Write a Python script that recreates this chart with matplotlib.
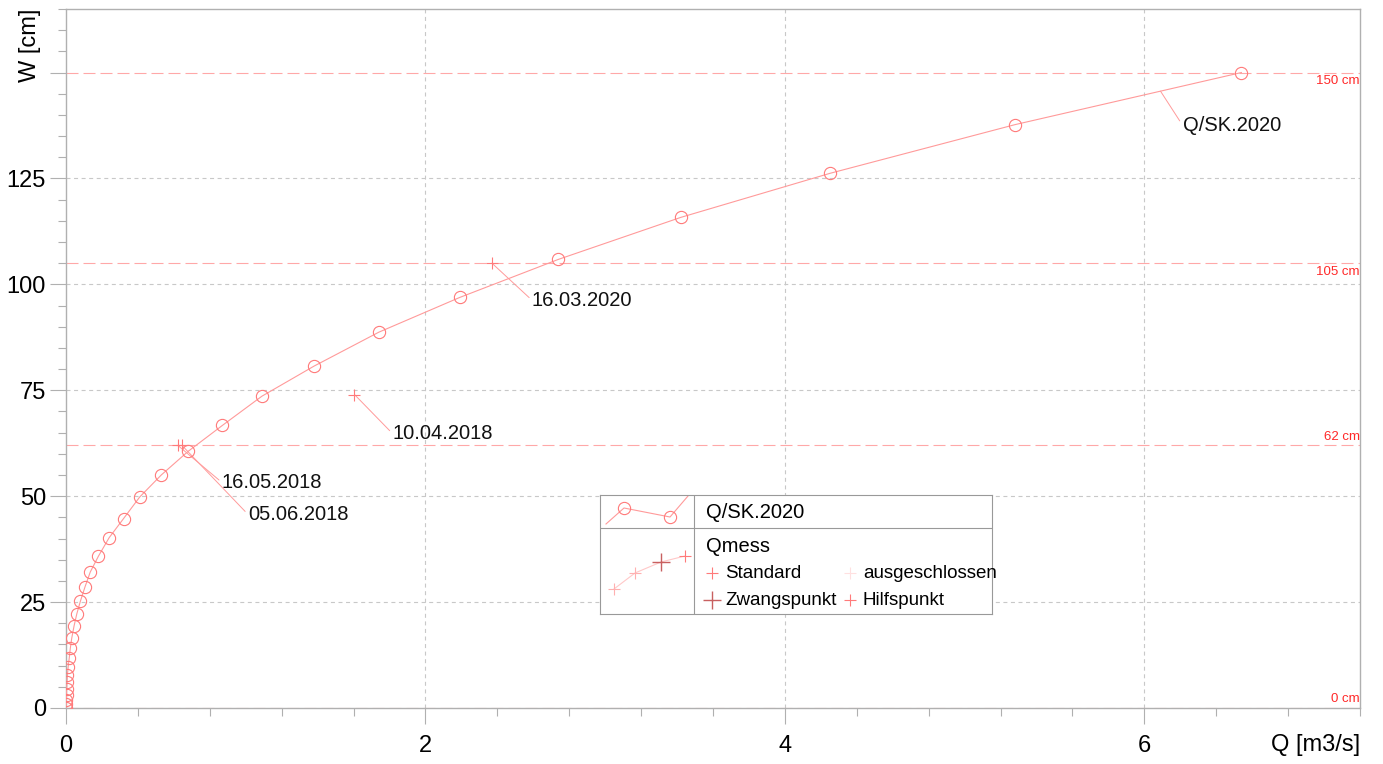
import numpy as np
import matplotlib
matplotlib.use('Agg')
import matplotlib.pyplot as plt

plt.rcParams['font.family'] = ['Liberation Sans', 'DejaVu Sans']

# rating curve Q/SK.2020 (discharge m3/s, water level cm)
q_curve = [0.0, 0.001, 0.002, 0.003, 0.004, 0.006, 0.008, 0.012, 0.018, 0.024,
           0.032, 0.045, 0.06, 0.08, 0.105, 0.135, 0.18, 0.24, 0.32, 0.41,
           0.53, 0.68, 0.87, 1.09, 1.38, 1.74, 2.19, 2.74, 3.42, 4.25,
           5.28, 6.54]
w_curve = [0.0, 0.9, 1.9, 3.1, 4.5, 6.1, 7.8, 9.7, 11.8, 14.1,
           16.5, 19.4, 22.2, 25.2, 28.5, 32.1, 35.8, 40.2, 44.7, 49.8,
           55.0, 60.6, 66.7, 73.6, 80.7, 88.7, 96.9, 105.9, 115.8, 126.2,
           137.7, 150.0]
curve_name = 'Q/SK.2020'

# discharge measurements (Qmess)
meas_q = [2.37, 1.605, 0.622, 0.645]
meas_w = [105.0, 74.0, 62.0, 62.0]
meas_dates = ['16.03.2020', '10.04.2018', '16.05.2018', '05.06.2018']

# level marks
marks_w = [150, 105, 62, 0]
marks_txt = ['150 cm', '105 cm', '62 cm', '0 cm']

x_major = [0, 2, 4, 6]
y_major = [0, 25, 50, 75, 100, 125, 150]
y_labels = ['0', '25', '50', '75', '100', '125', '']

RED_LINE = '#ff9a9a'
RED_MARK = '#ff7a7a'
GRID = '#c8c8c8'
SPINE = '#b0b0b0'

W, H = 1383, 764
fig = plt.figure(figsize=(W / 100, H / 100), dpi=100)
ax = fig.add_axes([66 / W, 1 - 708 / H, (1360 - 66) / W, (708 - 9) / H])
ax.set_xlim(0, 7.2)
ax.set_ylim(0, 165)

# ticks
ax.set_xticks(x_major)
ax.set_xticks(np.arange(0, 7.21, 0.4), minor=True)
ax.set_yticks(y_major)
ax.set_yticklabels(y_labels)
ax.set_yticks(np.arange(0, 166, 5), minor=True)
ax.tick_params(which='major', length=11.5, width=0.8, color=SPINE,
               labelsize=17, pad=3)
ax.tick_params(axis='x', which='major', pad=8)
ax.tick_params(which='minor', length=5.5, width=0.8, color=SPINE)
for s in ax.spines.values():
    s.set_color(SPINE)
    s.set_linewidth(1.0)

# dashed grid (no gray line at 150, the level mark sits there)
grid_style = dict(color=GRID, lw=0.8, linestyle=(0, (3.6, 3.2)), zorder=0)
for xv in x_major[1:]:
    ax.axvline(xv, **grid_style)
for yv in y_major[1:-1]:
    ax.axhline(yv, **grid_style)

# level marks
for wv, txt in zip(marks_w, marks_txt):
    ax.axhline(wv, color='#ffa8a8', lw=0.8, linestyle=(0, (10.8, 4.5)), zorder=1)
    below = wv > 100
    ax.annotate(txt, xy=(1, wv), xycoords=('axes fraction', 'data'),
                xytext=(0, -2 if below else 2), textcoords='offset points',
                ha='right', va='top' if below else 'bottom',
                fontsize=9.5, color='#ff2828')

# rating curve
ax.plot(q_curve, w_curve, color=RED_LINE, lw=0.8, zorder=3)
ax.plot(q_curve, w_curve, linestyle='none', marker='o', ms=8.8,
        mfc='none', mec=RED_MARK, mew=0.8, zorder=4)

anchor_q = 6.09
anchor_w = np.interp(anchor_q, q_curve, w_curve)
ax.annotate(curve_name, xy=(anchor_q, anchor_w), xytext=(22, -34),
            textcoords='offset pixels', ha='left', va='center', fontsize=14.5,
            color='#111111',
            arrowprops=dict(arrowstyle='-', color=RED_LINE, lw=0.7,
                            shrinkA=0, shrinkB=0, relpos=(0, 0.5)))

# measurements
ax.plot(meas_q, meas_w, linestyle='none', marker='+', ms=9, mew=0.8,
        color=RED_MARK, zorder=5)
offsets = [(40, -37), (38, -39), (44, -37), (66, -69)]
for q, w, d, off in zip(meas_q, meas_w, meas_dates, offsets):
    ax.annotate(d, xy=(q, w), xytext=off, textcoords='offset pixels',
                ha='left', va='center', fontsize=14.5, color='#111111',
                arrowprops=dict(arrowstyle='-', color=RED_LINE, lw=0.7,
                                shrinkA=0, shrinkB=0, relpos=(0, 0.5)))

ax.set_ylabel('W [cm]', fontsize=17, rotation=90)
ax.yaxis.set_label_coords(-0.028, 1.0)
ax.yaxis.label.set_va('center')
ax.yaxis.label.set_ha('right')
ax.set_xlabel('Q [m3/s]', fontsize=17)
ax.xaxis.set_label_coords(1.0, -0.053)
ax.xaxis.label.set_ha('right')
ax.xaxis.label.set_va('center')

# legend box drawn in pixel units
lx0, ly0, lx1, ly1 = 600, 495, 992, 614
leg = fig.add_axes([lx0 / W, 1 - ly1 / H, (lx1 - lx0) / W, (ly1 - ly0) / H])
leg.set_xlim(lx0, lx1)
leg.set_ylim(ly1, ly0)
leg.set_xticks([])
leg.set_yticks([])
leg.set_facecolor('white')
for s in leg.spines.values():
    s.set_color('#999999')
    s.set_linewidth(0.8)
leg.plot([lx0, lx1], [528, 528], color='#999999', lw=0.8)
leg.plot([694, 694], [ly0, ly1], color='#999999', lw=0.8)

leg.plot([606, 624, 670, 688], [524, 508, 517, 496], color=RED_LINE, lw=0.8)
leg.plot([624, 670], [508, 517], linestyle='none', marker='o', ms=8.8,
         mfc='none', mec=RED_MARK, mew=0.8)
leg.text(706, 512, curve_name, fontsize=14.5, va='center', ha='left')

sx = [614, 635, 661, 685]
sy = [589, 573, 562, 556]
leg.plot(sx, sy, color='#ffc8c8', lw=0.8)
leg.plot(sx[:2], sy[:2], linestyle='none', marker='+', ms=8, mew=0.8,
         color='#ffb0b0')
leg.plot([sx[2]], [sy[2]], linestyle='none', marker='+', ms=13, mew=1.0,
         color='#c86060')
leg.plot([sx[3]], [sy[3]], linestyle='none', marker='+', ms=8, mew=0.8,
         color=RED_MARK)
leg.text(706, 546, 'Qmess', fontsize=14.5, va='center', ha='left')

items = [('Standard', 712, 573, RED_MARK, 8, 0.8),
         ('ausgeschlossen', 850, 573, '#ffe0e0', 8, 0.8),
         ('Zwangspunkt', 712, 600, '#c86060', 13, 1.0),
         ('Hilfspunkt', 850, 600, RED_MARK, 8, 0.8)]
for name, px, py, col, ms, mew in items:
    leg.plot([px], [py], linestyle='none', marker='+', ms=ms, mew=mew,
             color=col)
    leg.text(px + 13, py, name, fontsize=13.5, va='center', ha='left')

fig.savefig('out.png', dpi=100)
